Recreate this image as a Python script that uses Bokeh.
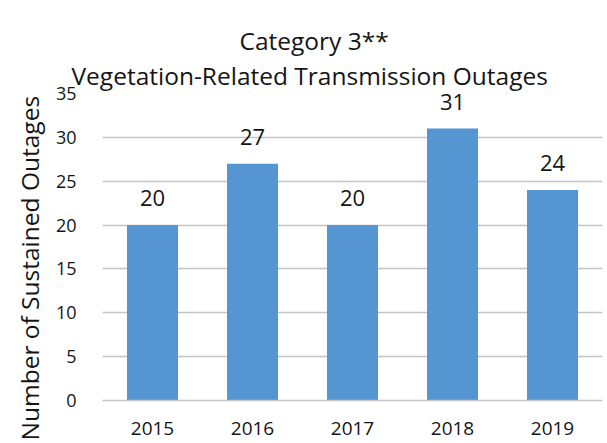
from bokeh.plotting import figure
from bokeh.models import ColumnDataSource, LabelSet, Range1d, Title, FixedTicker
from bokeh.core.properties import value
from bokeh.embed import file_html
from bokeh.resources import INLINE

years = ["2015", "2016", "2017", "2018", "2019"]
outages = [20, 27, 20, 31, 24]
y_ticks = [0, 5, 10, 15, 20, 25, 30, 35]
title_line1 = "Category 3**"
title_line2 = "Vegetation-Related Transmission Outages"
y_label = "Number of Sustained Outages"

FONT = "Open Sans"
TEXT = "#151515"
source = ColumnDataSource(dict(year=years, value=outages, label=[str(v) for v in outages]))

p = figure(width=607, height=443, x_range=years, y_range=Range1d(0, 35),
           output_backend="svg", toolbar_location=None,
           min_border_left=102, min_border_right=5, min_border_top=93, min_border_bottom=43)
p.title = None
p.outline_line_color = None

# invisible spacer between the frame and the two title lines
p.add_layout(Title(text=".", text_font_size="1px", text_alpha=0, standoff=20), "above")
p.add_layout(Title(text=title_line2, align="left", offset=-31, vertical_align="top",
                   text_font=FONT, text_font_size="24.5px", text_font_style="normal",
                   text_color=TEXT, standoff=0), "above")
p.add_layout(Title(text=title_line1, align="left", offset=137, vertical_align="top",
                   text_font=FONT, text_font_size="24.5px", text_font_style="normal",
                   text_color=TEXT, standoff=0), "above")

p.vbar(x="year", top="value", width=0.51, source=source, fill_color="#5596d2", line_color=None)

labels = LabelSet(x="year", y="value", text="label", source=source, text_align="center",
                  text_baseline="bottom", y_offset=19, text_font=value(FONT),
                  text_font_size="22px", text_color=TEXT)
p.add_layout(labels)

p.ygrid.ticker = FixedTicker(ticks=y_ticks)
p.ygrid.grid_line_color = "#c4c4c4"
p.ygrid.grid_line_width = 1.5
p.xgrid.grid_line_color = None

p.yaxis.ticker = FixedTicker(ticks=y_ticks)
p.yaxis.axis_line_color = None
p.yaxis.major_tick_line_color = None
p.yaxis.minor_tick_line_color = None
p.yaxis.major_label_text_font = FONT
p.yaxis.major_label_text_font_size = "18px"
p.yaxis.major_label_text_color = TEXT
p.yaxis.major_label_standoff = 20

p.add_layout(Title(text=y_label, align="left", offset=-40, text_font=FONT,
                   text_font_size="24.5px", text_font_style="normal", text_color=TEXT,
                   standoff=14), "left")

p.xaxis.axis_line_color = "#c4c4c4"
p.xaxis.axis_line_width = 1.5
p.xaxis.major_tick_line_color = None
p.xaxis.minor_tick_line_color = None
p.xaxis.major_label_text_font = FONT
p.xaxis.major_label_text_font_size = "19px"
p.xaxis.major_label_text_color = TEXT
p.xaxis.major_label_standoff = 15

open("out.html", "w").write(file_html(p, INLINE))
